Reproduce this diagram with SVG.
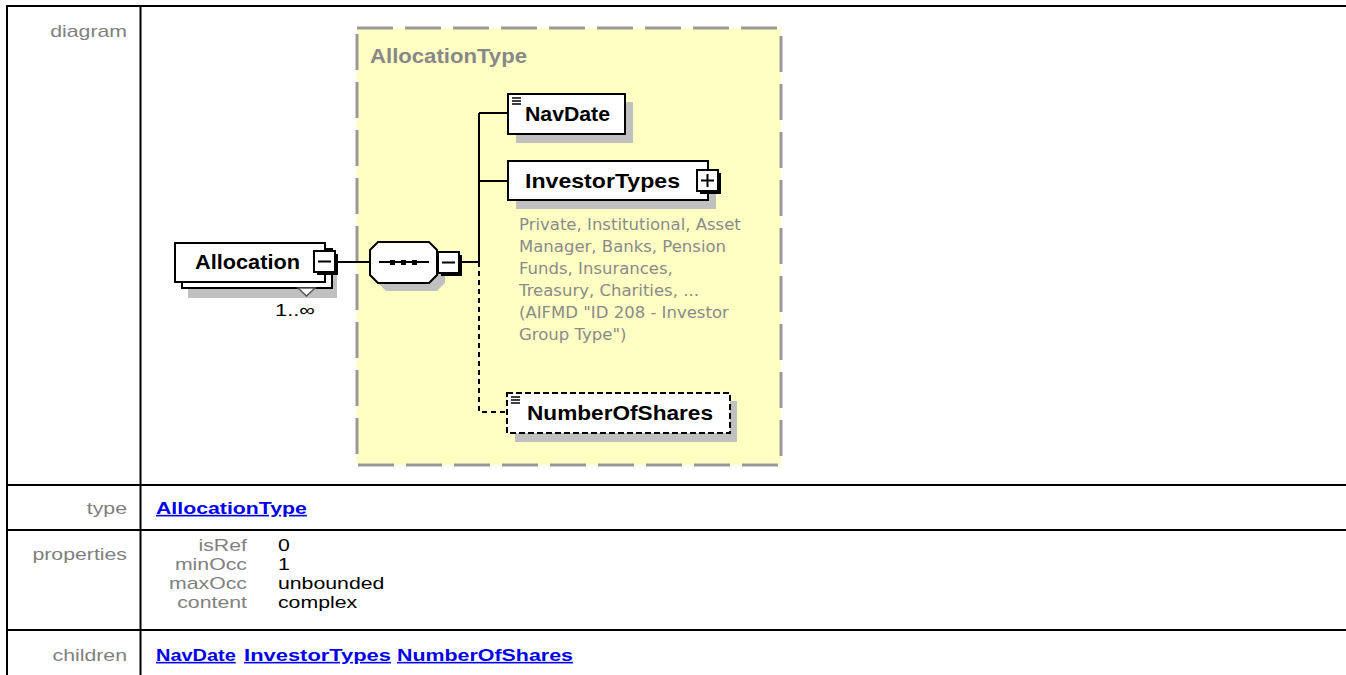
<svg xmlns="http://www.w3.org/2000/svg" width="1346" height="675" viewBox="0 0 1346 675">
<style>
.tl{stroke:#000;stroke-width:2;fill:none}
.lab{font-family:"Liberation Sans",Arial,sans-serif;font-size:16px;fill:#808080;text-anchor:end}
.val{font-family:"Liberation Sans",Arial,sans-serif;font-size:16px;fill:#000}
.lnk{font-family:"Liberation Sans",Arial,sans-serif;font-size:16px;font-weight:bold;fill:#0000EE;text-decoration:underline}
.box{fill:#fff;stroke:#000;stroke-width:2}
.shd{fill:#C0C0C0}
.nl{font-family:"Liberation Sans",Arial,sans-serif;font-size:21px;font-weight:bold;fill:#000}
.ann{font-family:"DejaVu Sans",Tahoma,sans-serif;font-size:16.5px;fill:#8a8a8a}
.con{stroke:#000;stroke-width:2;fill:none}
.dash{stroke-dasharray:5 4}
</style>
<rect width="1346" height="675" fill="#fff"/>
<g id="table">
<path class="tl" d="M7 675V6H1346M140.5 6V675M7 485H1346M7 530H1346M7 630H1346"/>
<g transform="scale(1.33 1)">
<text class="lab" x="95.5" y="37">diagram</text>
<text class="lab" x="95.5" y="514">type</text>
<text class="lab" x="95.5" y="560">properties</text>
<text class="lab" x="95.5" y="661">children</text>
<text class="lab" x="185.7" y="551">isRef</text>
<text class="lab" x="185.7" y="570">minOcc</text>
<text class="lab" x="185.7" y="589">maxOcc</text>
<text class="lab" x="185.7" y="608">content</text>
<text class="val" x="209" y="551">0</text>
<text class="val" x="209" y="570">1</text>
<text class="val" x="209" y="589">unbounded</text>
<text class="val" x="209" y="608">complex</text>
<text class="lnk" x="117.3" y="514">AllocationType</text>
<text class="lnk" x="117.3" y="661" textLength="60" lengthAdjust="spacingAndGlyphs">NavDate</text>
<text class="lnk" x="183.5" y="661" textLength="110.5" lengthAdjust="spacingAndGlyphs">InvestorTypes</text>
<text class="lnk" x="298.5" y="661" textLength="132.3" lengthAdjust="spacingAndGlyphs">NumberOfShares</text>
</g>
</g>
<g id="AllocationType">
<rect x="357" y="28" width="424" height="437" fill="#FFFFC4" stroke="#999" stroke-width="3" stroke-dasharray="36 12"/>
<text x="370" y="63" font-family="Liberation Sans,Arial,sans-serif" font-size="21" font-weight="bold" fill="#888" textLength="157" lengthAdjust="spacingAndGlyphs">AllocationType</text>
</g>
<g id="connectors">
<path class="con" d="M336 262H370M460 262H479M479 113V262M479 113H508M479 181H508"/>
<path class="con dash" d="M479 262V412H508"/>
</g>
<g id="Allocation">
<rect class="shd" x="188" y="256" width="149" height="42"/>
<rect class="box" x="182" y="249" width="150" height="39"/>
<rect class="box" x="175" y="243" width="150" height="39"/>
<text class="nl" x="195" y="269" textLength="105" lengthAdjust="spacingAndGlyphs">Allocation</text>
<rect x="317" y="254" width="21" height="21" fill="#000"/>
<rect class="box" x="314" y="251" width="21" height="21"/>
<path d="M318 261.5H331" stroke="#000" stroke-width="2"/>
<path d="M298 288H315L306.5 296Z" fill="#fff" stroke="#555" stroke-width="1.5"/>
<text x="275" y="316" font-family="Liberation Sans,Arial,sans-serif" font-size="17" fill="#000" textLength="40" lengthAdjust="spacingAndGlyphs">1..∞</text>
</g>
<g id="sequence">
<path class="shd" d="M386 250H437L445 258V283L437 291H386L378 283V258Z"/>
<path d="M378 242H429L437 250V275L429 283H378L370 275V250Z" fill="#fff" stroke="#000" stroke-width="2"/>
<path d="M379 262H429" stroke="#000" stroke-width="2"/>
<rect x="390" y="260" width="5" height="5" fill="#000"/>
<rect x="401" y="260" width="5" height="5" fill="#000"/>
<rect x="412" y="260" width="5" height="5" fill="#000"/>
<rect x="441" y="255" width="21" height="21" fill="#000"/>
<rect class="box" x="438" y="252" width="21" height="21"/>
<path d="M442 262.5H455" stroke="#000" stroke-width="2"/>
</g>
<g id="NavDate">
<rect class="shd" x="516" y="102" width="117" height="41"/>
<rect class="box" x="508" y="94" width="117" height="40"/>
<path d="M512 98H521M512 101H521M512 104H521" stroke="#000" stroke-width="1.5"/>
<text class="nl" x="525" y="121" textLength="85" lengthAdjust="spacingAndGlyphs">NavDate</text>
</g>
<g id="InvestorTypes">
<rect class="shd" x="516" y="169" width="200" height="40"/>
<rect class="box" x="508" y="161" width="200" height="39"/>
<text class="nl" x="525" y="188" textLength="155" lengthAdjust="spacingAndGlyphs">InvestorTypes</text>
<rect x="700" y="173" width="21" height="21" fill="#000"/>
<rect class="box" x="697" y="170" width="21" height="21"/>
<path d="M701 180.5H714M707.5 174V187" stroke="#000" stroke-width="2"/>
<text class="ann" x="519" y="230">Private, Institutional, Asset</text>
<text class="ann" x="519" y="252">Manager, Banks, Pension</text>
<text class="ann" x="519" y="274">Funds, Insurances,</text>
<text class="ann" x="519" y="296">Treasury, Charities, ...</text>
<text class="ann" x="519" y="318">(AIFMD "ID 208 - Investor</text>
<text class="ann" x="519" y="340">Group Type")</text>
</g>
<g id="NumberOfShares">
<rect class="shd" x="515" y="401" width="222" height="41"/>
<rect x="507" y="393" width="223" height="40" fill="#fff" stroke="#000" stroke-width="2" stroke-dasharray="6 3"/>
<path d="M511 397H520M511 400H520M511 403H520" stroke="#000" stroke-width="1.5"/>
<text class="nl" x="527" y="420" textLength="186" lengthAdjust="spacingAndGlyphs">NumberOfShares</text>
</g>
</svg>
